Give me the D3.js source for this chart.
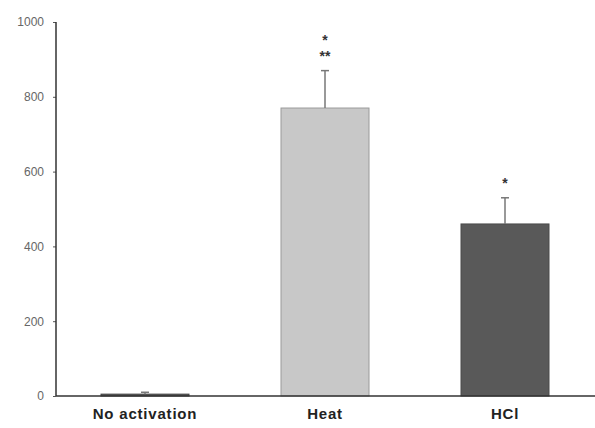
<!DOCTYPE html>
<html lang="en">
<head>
  <meta charset="UTF-8">
  <title>Activation bar chart</title>
  <script src="https://d3js.org/d3.v7.min.js"></script>
  <style>
    body { margin: 0; background: #fff; font-family: Arial, "Liberation Sans", sans-serif; }
    .tick text { fill: #666; font-size: 12px; }
    .cat { font-weight: bold; font-size: 15px; fill: #222; letter-spacing: 0.8px; }
    .star { font-size: 14px; font-weight: bold; fill: #333; }
  </style>
</head>
<body>
  <script>
    const categories = ["No activation", "Heat", "HCl"];
    const values = [5, 770, 460];
    const errors = [5, 100, 70];
    const stars = [[], ["*", "**"], ["*"]];
    const fills = ["#555", "#c8c8c8", "#595959"];
    const strokes = ["#444", "#9a9a9a", "#4a4a4a"];
    const yTicks = [0, 200, 400, 600, 800, 1000];

    const width = 595, height = 428;
    const svg = d3.select("body").append("svg")
      .attr("width", width).attr("height", height);

    const y = d3.scaleLinear().domain([0, 1000]).range([396, 22]);
    const x = d3.scalePoint().domain(categories).range([145, 505]);
    const barW = 88;
    const axisX = 56;

    // y axis
    const yAxis = svg.append("g")
      .attr("transform", `translate(${axisX},0)`)
      .call(d3.axisLeft(y).tickValues(yTicks).tickFormat(d3.format("d")).tickSize(3).tickPadding(9));
    yAxis.select(".domain").remove();
    yAxis.selectAll(".tick line").attr("stroke", "#555");

    // bars
    svg.selectAll(".bar")
      .data(categories)
      .join("rect")
      .attr("class", "bar")
      .attr("x", d => x(d) - barW / 2)
      .attr("width", barW)
      .attr("y", (d, i) => y(values[i]))
      .attr("height", (d, i) => y(0) - y(values[i]))
      .attr("fill", (d, i) => fills[i])
      .attr("stroke", (d, i) => strokes[i])
      .attr("stroke-width", 1);

    // error bars (upper only)
    const err = svg.append("g").attr("stroke", "#777").attr("stroke-width", 1.5);
    categories.forEach((c, i) => {
      err.append("line")
        .attr("x1", x(c)).attr("x2", x(c))
        .attr("y1", y(values[i])).attr("y2", y(values[i] + errors[i]));
      err.append("line")
        .attr("x1", x(c) - 4).attr("x2", x(c) + 4)
        .attr("y1", y(values[i] + errors[i])).attr("y2", y(values[i] + errors[i]));
    });

    // significance stars
    categories.forEach((c, i) => {
      const top = y(values[i] + errors[i]);
      stars[i].forEach((s, k) => {
        svg.append("text")
          .attr("class", "star")
          .attr("x", x(c))
          .attr("y", top - 10 - (stars[i].length - 1 - k) * 16)
          .attr("text-anchor", "middle")
          .text(s);
      });
    });

    // axis lines
    svg.append("line")
      .attr("x1", axisX).attr("x2", axisX)
      .attr("y1", y(1000)).attr("y2", y(0))
      .attr("stroke", "#333").attr("stroke-width", 1.5);
    svg.append("line")
      .attr("x1", axisX).attr("x2", width)
      .attr("y1", y(0)).attr("y2", y(0))
      .attr("stroke", "#333").attr("stroke-width", 1.5);

    // category labels
    svg.selectAll(".cat")
      .data(categories)
      .join("text")
      .attr("class", "cat")
      .attr("x", d => x(d))
      .attr("y", 419)
      .attr("text-anchor", "middle")
      .text(d => d);
  </script>
</body>
</html>
